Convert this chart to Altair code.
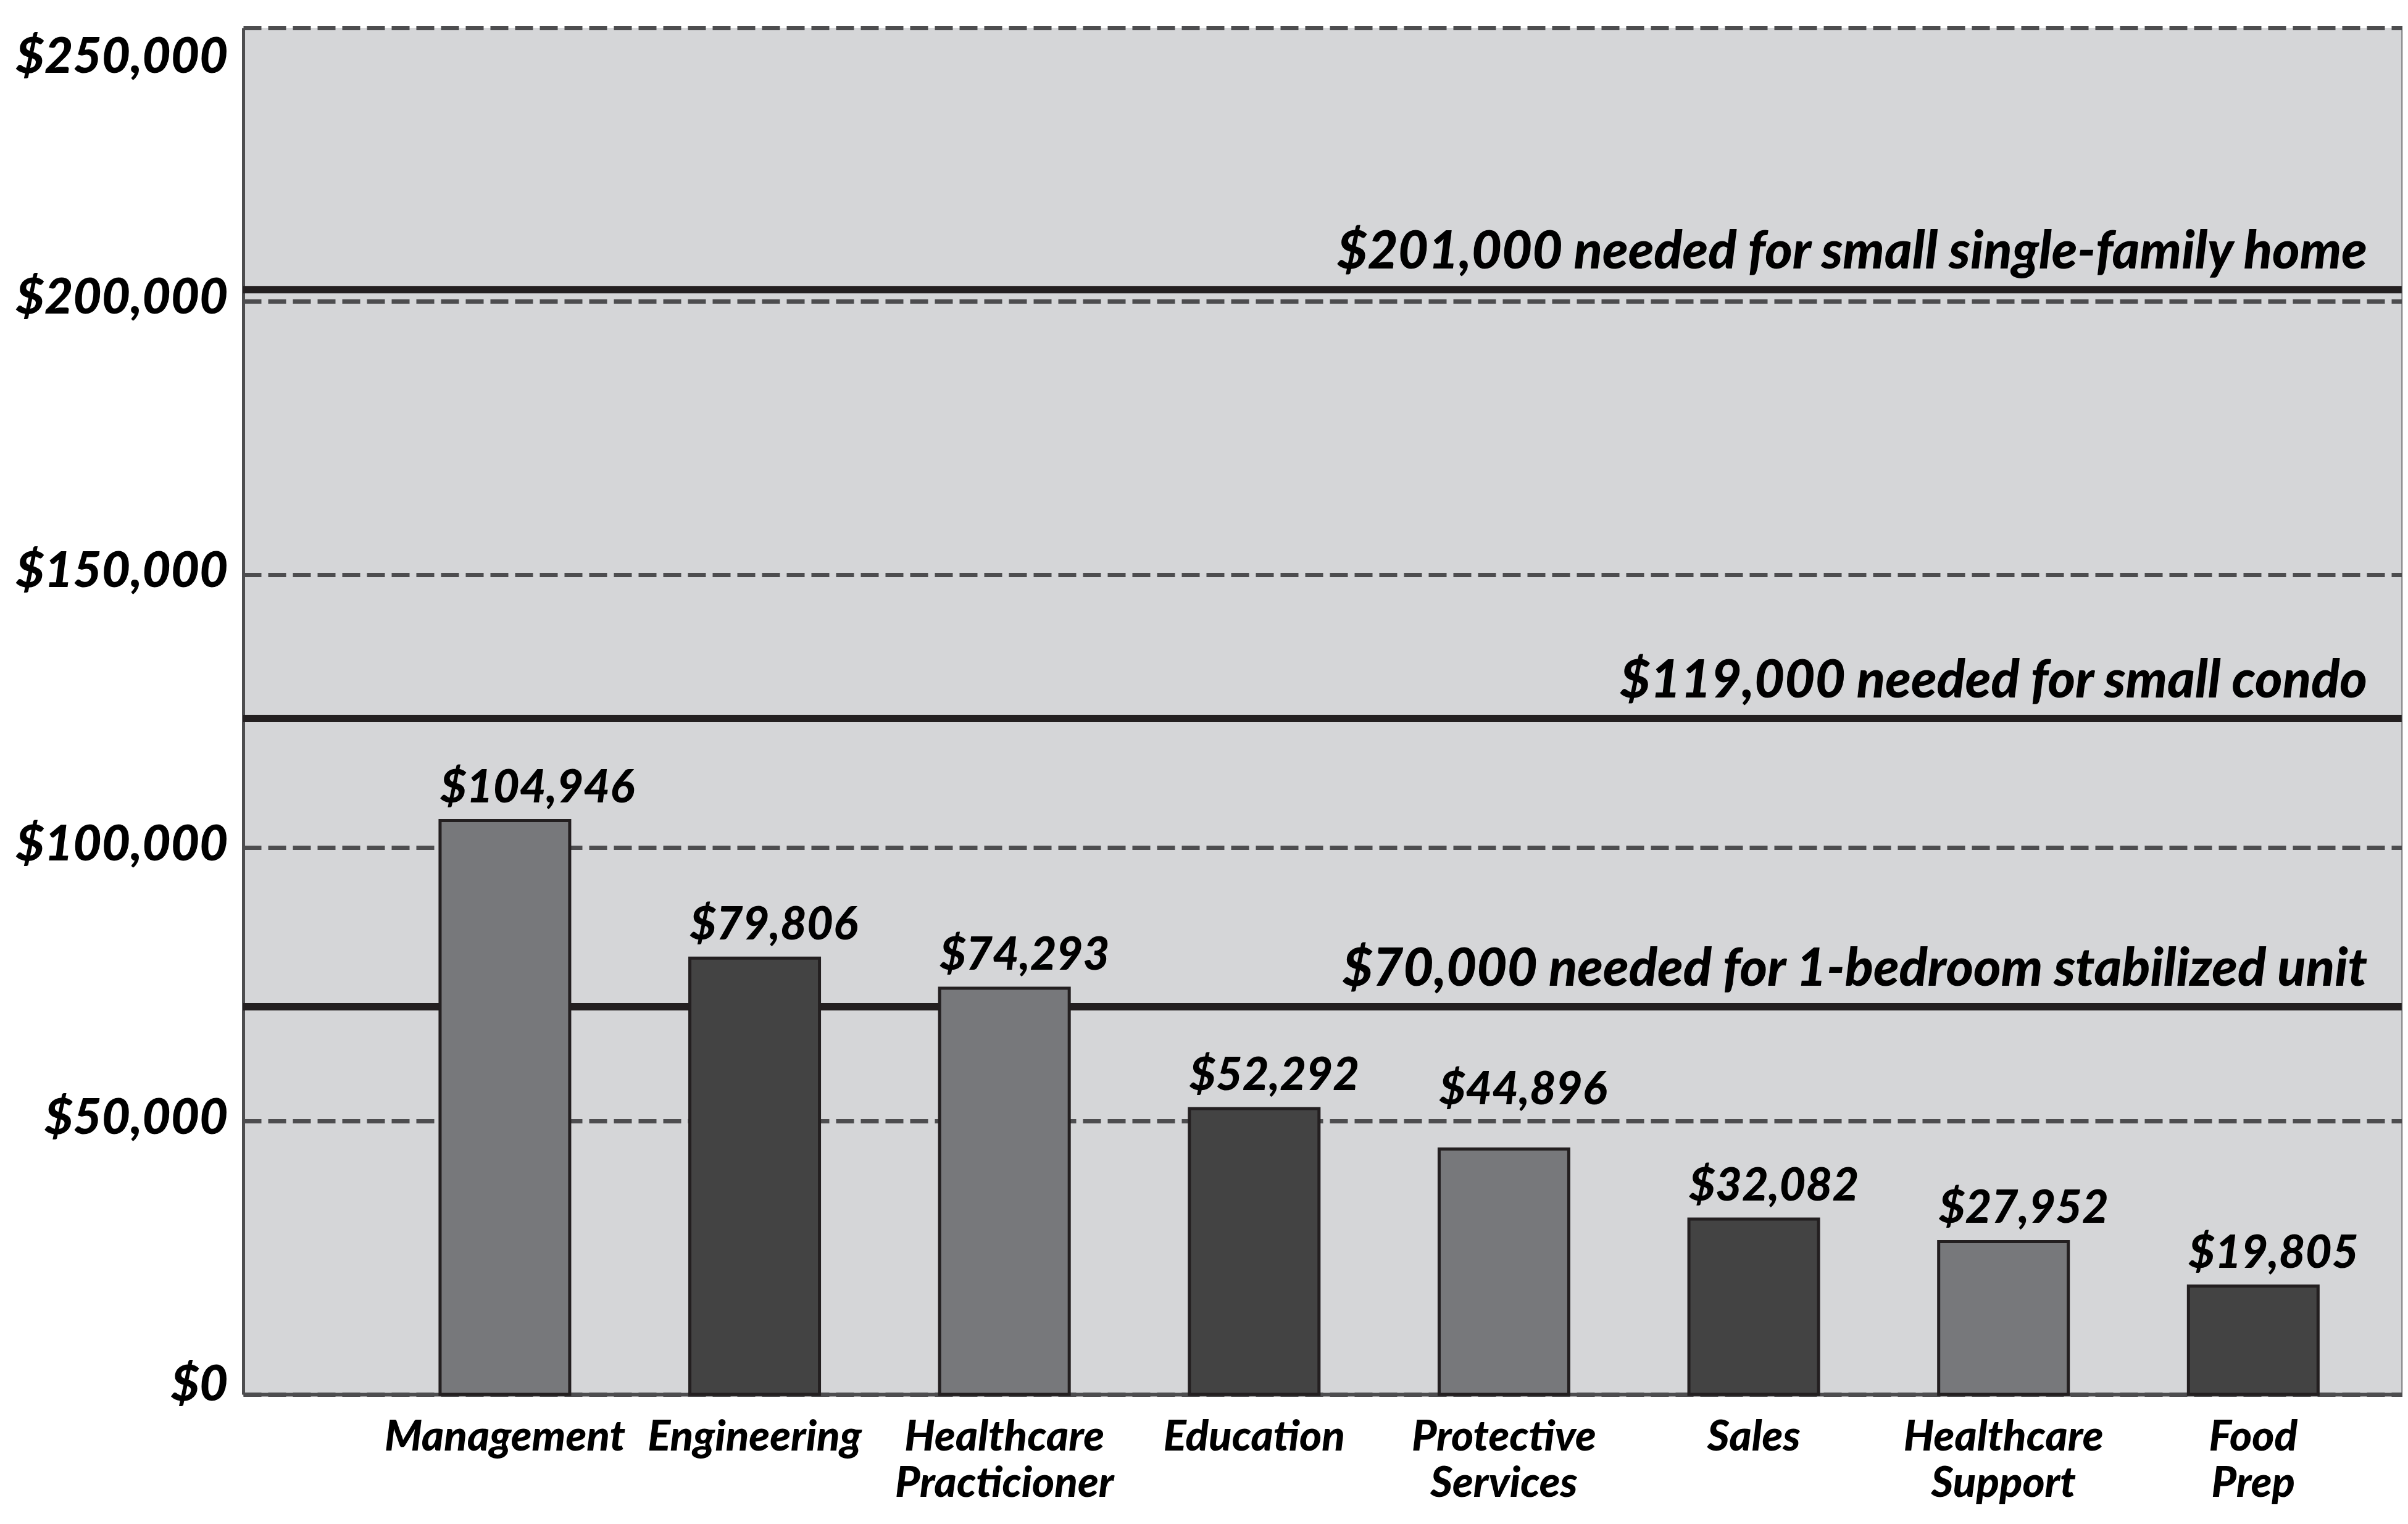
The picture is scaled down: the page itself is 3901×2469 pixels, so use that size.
import altair as alt
import pandas as pd

# ---- data ----
occupations = ["Management", "Engineering", "Healthcare|Practicioner", "Education",
               "Protective|Services", "Sales", "Healthcare|Support", "Food|Prep"]
median_pay = [104946, 79806, 74293, 52292, 44896, 32082, 27952, 19805]
bar_shade = ["light", "dark", "light", "dark", "light", "dark", "light", "dark"]

threshold_text = ["$201,000 needed for small single-family home",
                  "$119,000 needed for small condo",
                  "$70,000 needed for 1-bedroom stabilized unit"]
threshold_drawn_at = [202100, 123650, 70900]   # where the lines sit in the picture

y_ticks = [0, 50000, 100000, 150000, 200000, 250000]

# ---- layout ----
W, H = 3498, 2214
FONT = "Lato"
WEIGHT = 900

bars_df = pd.DataFrame({"occ": occupations, "pay": median_pay, "shade": bar_shade})
thr_df = pd.DataFrame({"label": threshold_text, "pos": threshold_drawn_at})

x_scale = alt.Scale(paddingInner=0.481, paddingOuter=0.563, align=0.70)
y_scale = alt.Scale(domain=[0, 250000], nice=False, zero=True)

y_axis = alt.Axis(
    values=y_ticks, format="$,d", title=None,
    labelFont=FONT, labelFontSize=80, labelFontStyle="italic", labelFontWeight=WEIGHT,
    labelColor="black", labelPadding=25, ticks=False, labelLimit=1000,
    domainColor="#4d4d4f", domainWidth=5,
    grid=True, gridColor="#4d4d4f", gridDash=[29, 11], gridWidth=7,
    labelOffset={"condition": [{"test": "datum.value == 250000", "value": 48},
                               {"test": "datum.value == 0", "value": -15}],
                 "value": -4},
)
x_axis = alt.Axis(
    title=None, labelAngle=0, ticks=False, labelPadding=35, labelLimit=1000,
    labelExpr="split(datum.label, '|')", labelLineHeight=75, labelBaseline="top",
    labelFont=FONT, labelFontSize=69, labelFontStyle="italic", labelFontWeight=WEIGHT,
    labelColor="black", domainColor="#4d4d4f", domainWidth=6, grid=False,
)

X = alt.X("occ:N", sort=occupations, scale=x_scale, axis=x_axis)

thr_lines = alt.Chart(thr_df).mark_rule(color="#231f20", strokeWidth=12).encode(
    y=alt.Y("pos:Q", scale=y_scale, axis=y_axis)
)

bars = alt.Chart(bars_df).mark_bar(stroke="#231f20", strokeWidth=5).encode(
    x=X,
    y=alt.Y("pay:Q", scale=y_scale, axis=y_axis),
    color=alt.Color("shade:N", scale=alt.Scale(domain=["light", "dark"],
                                                range=["#77787b", "#434343"]), legend=None),
)

label_style = dict(align="left", baseline="alphabetic", dx=-105,
                   font=FONT, fontSize=74, fontStyle="italic", fontWeight=WEIGHT, color="black")
label_enc = dict(
    x=X,
    y=alt.Y("pay:Q", scale=y_scale, axis=y_axis),
    text=alt.Text("pay:Q", format="$,d"),
)

# the label that would sit on the $50,000 grid line is lifted clear of it, as in the reference
bar_labels = alt.Chart(bars_df).transform_filter(
    "datum.occ != 'Protective|Services'"
).mark_text(dy=-30, **label_style).encode(**label_enc)

bar_label_lifted = alt.Chart(bars_df).transform_filter(
    "datum.occ == 'Protective|Services'"
).mark_text(dy=-72, **label_style).encode(**label_enc)

thr_labels = alt.Chart(thr_df).mark_text(
    align="right", baseline="alphabetic", dy=-34,
    font=FONT, fontSize=85, fontStyle="italic", fontWeight=WEIGHT, color="black",
).encode(
    x=alt.value(W - 57),
    y=alt.Y("pos:Q", scale=y_scale, axis=y_axis),
    text="label:N",
)

border = alt.Chart(pd.DataFrame({"a": [1]})).mark_rule(color="#4d4d4f", strokeWidth=3).encode(
    x=alt.value(W), y=alt.value(0), y2=alt.value(H)
)

chart = alt.layer(thr_lines, bars, bar_labels, bar_label_lifted, thr_labels, border).properties(
    width=W, height=H,
    autosize=alt.AutoSizeParams(type="none"),
    padding={"left": 386, "top": 37, "right": 0, "bottom": 190},
    background="white",
).configure_view(
    fill="#d5d6d8", stroke=None
)

chart.save("out.html", embed_options={"renderer": "svg", "actions": False})
